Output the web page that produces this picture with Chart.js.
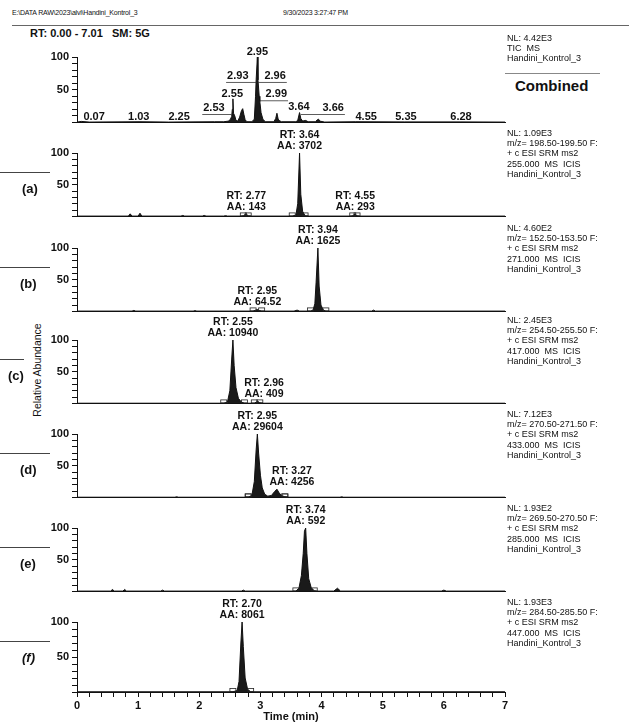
<!DOCTYPE html>
<html>
<head>
<meta charset="utf-8">
<script src="https://cdn.jsdelivr.net/npm/chart.js@4.4.1/dist/chart.umd.min.js"></script>
<style>
  body { margin: 0; background: #fff; }
  #page {
    position: relative;
    width: 629px;
    height: 724px;
    overflow: hidden;
    font-family: "Liberation Sans", Arial, sans-serif;
    color: #111;
  }
  canvas { position: absolute; left: 0; }
  .info { position: absolute; left: 507px; font-size: 9px; line-height: 10.2px; white-space: pre; }
  .tag { position: absolute; font-weight: bold; font-size: 13px; }
  .rule { position: absolute; height: 0; border-top: 1px solid #444; }
  .head { position: absolute; top: 9px; font-size: 7px; letter-spacing: -0.2px; }
</style>
</head>
<body>
<div id="page">
  <div class="head" style="left:12px">E:\DATA RAW\2023\alvi\Handini_Kontrol_3</div>
  <div class="head" style="left:283px">9/30/2023 3:27:47 PM</div>
  <div class="rule" style="left:12px;top:25px;width:617px;border-color:#666"></div>
  <div style="position:absolute;left:30px;top:27px;font-size:11px;font-weight:bold">RT: 0.00 - 7.01&nbsp;&nbsp;&nbsp;SM: 5G</div>
  <div class="rule" style="left:505px;top:73px;width:95px;border-color:#888"></div>
  <div style="position:absolute;left:515px;top:77px;font-size:15px;font-weight:bold">Combined</div>
  <div style="position:absolute;left:37px;top:370px;font-size:10.5px;transform:translate(-50%,-50%) rotate(-90deg);white-space:nowrap">Relative Abundance</div>
</div>

<script>
// ---- data ----
const xTickLabels = [0, 1, 2, 3, 4, 5, 6, 7];
const yTickLabels = [50, 100];

// TIC trace [time, relative abundance]
const ticTrace = [
  [0, 0.5], [0.07, 1.5], [0.2, 0.5], [1.03, 1], [1.5, 0.5], [2.25, 1], [2.4, 1],
  [2.48, 2], [2.51, 5], [2.53, 9], [2.54, 20], [2.55, 36], [2.56, 14], [2.58, 10],
  [2.6, 3], [2.63, 2], [2.66, 8], [2.69, 18], [2.71, 21], [2.73, 12], [2.75, 4],
  [2.78, 1], [2.86, 1], [2.9, 5], [2.92, 40], [2.93, 65], [2.95, 100], [2.96, 65],
  [2.98, 40], [2.99, 32], [3.01, 15], [3.04, 5], [3.08, 1], [3.22, 1], [3.25, 6],
  [3.27, 14], [3.29, 5], [3.31, 3], [3.34, 1], [3.58, 1], [3.61, 3], [3.64, 15],
  [3.66, 6], [3.69, 2], [3.74, 3], [3.78, 1], [3.9, 1], [3.93, 4], [3.95, 5],
  [3.97, 2], [4.05, 0.5], [4.55, 1], [5.35, 0.8], [6.28, 0.8], [7, 0.5]
];
const ticRt = [2.95, 2.93, 2.96, 2.55, 2.99, 2.53, 3.64, 3.66, 0.07, 1.03, 2.25, 4.55, 5.35, 6.28];

const traceA = [
  [0, 0.5], [0.84, 0.5], [0.87, 4], [0.9, 0.5], [1.0, 0.5], [1.03, 5], [1.06, 0.5],
  [1.7, 0.5], [1.73, 1.5], [1.76, 0.5], [2.05, 0.5], [2.08, 1.5], [2.11, 0.5],
  [2.4, 0.5], [2.43, 1.2], [2.46, 0.5], [2.68, 0.5], [2.72, 1], [2.75, 3], [2.77, 3.5],
  [2.8, 1], [2.85, 0.5], [3.52, 0.5], [3.58, 2], [3.61, 20], [3.64, 100], [3.66, 35],
  [3.69, 8], [3.73, 1], [3.8, 0.5], [4.48, 0.5], [4.51, 1], [4.53, 3], [4.55, 3.5],
  [4.58, 1], [4.62, 0.5], [7, 0.5]
];
const rtA = [2.77, 3.64, 4.55];
const areaA = ["143", "3702", "293"];

const traceB = [
  [0, 0.5], [0.9, 0.5], [0.93, 1.5], [0.96, 0.5], [1.9, 0.5], [1.93, 1.2], [1.96, 0.5],
  [2.88, 0.5], [2.92, 2], [2.95, 3], [2.98, 1.5], [3.02, 0.5], [3.55, 0.5], [3.6, 2],
  [3.64, 0.5], [3.82, 0.5], [3.86, 2], [3.89, 12], [3.91, 45], [3.94, 100], [3.96, 40],
  [3.99, 10], [4.03, 2], [4.07, 0.5], [4.82, 0.5], [4.85, 2], [4.88, 0.5], [7, 0.5]
];
const rtB = [2.95, 3.94];
const areaB = ["64.52", "1625"];

const traceC = [
  [0, 0.3], [2.4, 0.3], [2.46, 2], [2.5, 20], [2.53, 70], [2.55, 100], [2.57, 60],
  [2.6, 25], [2.64, 8], [2.69, 2], [2.74, 0.3], [2.9, 0.3], [2.93, 2], [2.96, 3],
  [2.99, 1], [3.05, 0.3], [7, 0.3]
];
const rtC = [2.55, 2.96];
const areaC = ["10940", "409"];

const traceD = [
  [0, 0.3], [1.6, 0.3], [1.63, 1], [1.66, 0.3], [2.8, 0.3], [2.86, 3], [2.9, 25],
  [2.93, 75], [2.95, 100], [2.97, 70], [3.0, 35], [3.03, 15], [3.07, 5], [3.12, 2],
  [3.18, 3], [3.23, 9], [3.27, 13], [3.3, 8], [3.34, 3], [3.4, 1], [3.46, 0.3],
  [4.3, 0.3], [4.33, 1], [4.36, 0.3], [7, 0.3]
];
const rtD = [2.95, 3.27];
const areaD = ["29604", "4256"];

const traceE = [
  [0, 0.5], [0.55, 0.5], [0.58, 3], [0.61, 0.5], [0.75, 0.5], [0.78, 3], [0.81, 0.5],
  [1.37, 0.5], [1.4, 2], [1.43, 0.5], [2.69, 0.5], [2.72, 2], [2.75, 0.5], [3.58, 0.5],
  [3.63, 5], [3.67, 25], [3.7, 60], [3.72, 95], [3.74, 100], [3.76, 60], [3.79, 20],
  [3.83, 6], [3.88, 1], [3.92, 0.5], [4.2, 0.5], [4.26, 5], [4.31, 0.5], [5.96, 0.5],
  [6.0, 2], [6.04, 0.5], [7, 0.5]
];
const rtE = [3.74];
const areaE = ["592"];

const traceF = [
  [0, 0.3], [2.55, 0.3], [2.62, 2], [2.65, 15], [2.68, 70], [2.7, 100], [2.72, 65],
  [2.75, 20], [2.79, 4], [2.84, 0.3], [7, 0.3]
];
const rtF = [2.7];
const areaF = ["8061"];

const infoTic = ["NL: 4.42E3", "TIC  MS", "Handini_Kontrol_3"];
const infoA = ["NL: 1.09E3", "m/z= 198.50-199.50 F:", "+ c ESI SRM ms2", "255.000  MS  ICIS", "Handini_Kontrol_3"];
const infoB = ["NL: 4.60E2", "m/z= 152.50-153.50 F:", "+ c ESI SRM ms2", "271.000  MS  ICIS", "Handini_Kontrol_3"];
const infoC = ["NL: 2.45E3", "m/z= 254.50-255.50 F:", "+ c ESI SRM ms2", "417.000  MS  ICIS", "Handini_Kontrol_3"];
const infoD = ["NL: 7.12E3", "m/z= 270.50-271.50 F:", "+ c ESI SRM ms2", "433.000  MS  ICIS", "Handini_Kontrol_3"];
const infoE = ["NL: 1.93E2", "m/z= 269.50-270.50 F:", "+ c ESI SRM ms2", "285.000  MS  ICIS", "Handini_Kontrol_3"];
const infoF = ["NL: 1.93E3", "m/z= 284.50-285.50 F:", "+ c ESI SRM ms2", "447.000  MS  ICIS", "Handini_Kontrol_3"];

// ---- layout (pixels) ----
const FONT = '"Liberation Sans", Arial, sans-serif';
const PLOT_LEFT = 77;
const PLOT_RIGHT = 505;

// where each TIC label sits: [time, % height] of the text centre
const ticTagSpot = [
  [2.95, 108], [2.63, 71], [3.24, 71], [2.54, 43], [3.26, 43], [2.24, 22], [3.63, 24],
  [4.19, 22], [0.28, 8], [1.01, 8], [1.67, 8], [4.73, 8], [5.38, 8], [6.28, 8]
];

const panels = [
  { trace: ticTrace, info: infoTic, base: 129, plotH: 72, padTop: 16, infoTop: 33 },
  { trace: traceA, rt: rtA, area: areaA, info: infoA, base: 223, plotH: 70, padTop: 24, label: "(a)", labelX: 22 },
  { trace: traceB, rt: rtB, area: areaB, info: infoB, base: 318, plotH: 70, padTop: 24, label: "(b)", labelX: 20 },
  { trace: traceC, rt: rtC, area: areaC, info: infoC, base: 410, plotH: 70, padTop: 24, label: "(c)", labelX: 8, shift: [0, 6] },
  { trace: traceD, rt: rtD, area: areaD, info: infoD, base: 504, plotH: 70, padTop: 24, label: "(d)", labelX: 20, shift: [0, 15] },
  { trace: traceE, rt: rtE, area: areaE, info: infoE, base: 598, plotH: 70, padTop: 24, label: "(e)", labelX: 20 },
  { trace: traceF, rt: rtF, area: areaF, info: infoF, base: 692, plotH: 70, padTop: 24, label: "(f)", labelX: 22, italic: true, last: true }
];

function apexOf(trace, rt) {
  let best = 0;
  trace.forEach(([t, v]) => { if (Math.abs(t - rt) <= 0.03 && v > best) best = v; });
  return best;
}

function boundsOf(trace, rt) {
  let idx = 0;
  trace.forEach(([t], i) => { if (Math.abs(t - rt) < Math.abs(trace[idx][0] - rt)) idx = i; });
  let l = idx, r = idx;
  while (l > 0 && trace[l][1] > 1) l--;
  while (r < trace.length - 1 && trace[r][1] > 1) r++;
  return [trace[l][0], trace[r][0]];
}

// peak annotations for the SRM panels
function peakTagPlugin(p) {
  return {
    id: "peakTags",
    afterDatasetsDraw(chart) {
      if (!p.rt) return;
      const { ctx, scales: { x, y } } = chart;
      ctx.save();
      ctx.fillStyle = "#111";
      ctx.strokeStyle = "#222";
      ctx.lineWidth = 0.8;
      ctx.font = "bold 10.5px " + FONT;
      ctx.textAlign = "center";
      ctx.textBaseline = "middle";
      p.rt.forEach((rt, i) => {
        const px = x.getPixelForValue(rt);
        const py = y.getPixelForValue(apexOf(p.trace, rt));
        const tx = px + ((p.shift && p.shift[i]) || 0);
        ctx.fillText("RT: " + rt.toFixed(2), tx, py - 18);
        ctx.fillText("AA: " + p.area[i], tx, py - 7);
        // integration marks at the peak edges
        const by = y.getPixelForValue(0);
        boundsOf(p.trace, rt).forEach((t) => {
          const bx = x.getPixelForValue(t);
          ctx.strokeRect(bx - 3, by - 3.5, 6, 3);
        });
      });
      ctx.restore();
    }
  };
}

// retention time labels of the TIC with their leader lines
const ticTagPlugin = {
  id: "ticTags",
  afterDatasetsDraw(chart) {
    const { ctx, scales: { x, y } } = chart;
    ctx.save();
    ctx.fillStyle = "#111";
    ctx.strokeStyle = "#333";
    ctx.lineWidth = 0.8;
    ctx.font = "bold 11px " + FONT;
    ctx.textAlign = "center";
    ctx.textBaseline = "middle";
    ticRt.forEach((rt, i) => {
      const [lt, lv] = ticTagSpot[i];
      const tx = x.getPixelForValue(lt);
      const ty = y.getPixelForValue(lv);
      const text = rt.toFixed(2);
      ctx.fillText(text, tx, ty);
      const rx = x.getPixelForValue(rt);
      if (Math.abs(tx - rx) > 8 && lv > 10) {
        const half = ctx.measureText(text).width / 2 + 1;
        const far = rx < tx ? tx + half : tx - half;
        ctx.beginPath();
        ctx.moveTo(rx, ty + 6.5);
        ctx.lineTo(far, ty + 6.5);
        ctx.stroke();
      }
    });
    ctx.restore();
  }
};

function addText(page, p) {
  const info = document.createElement("div");
  info.className = "info";
  info.style.top = (p.infoTop !== undefined ? p.infoTop : p.base - p.plotH - 25) + "px";
  info.textContent = p.info.join("\n");
  page.appendChild(info);
  if (!p.label) return;
  const mid = p.base - p.plotH / 2;
  const tag = document.createElement("div");
  tag.className = "tag";
  tag.style.left = p.labelX + "px";
  tag.style.top = (mid - 7) + "px";
  if (p.italic) tag.style.fontStyle = "italic";
  tag.textContent = p.label;
  page.appendChild(tag);
  const rule = document.createElement("div");
  rule.className = "rule";
  rule.style.left = "0px";
  rule.style.top = (mid - 16) + "px";
  rule.style.width = (p.labelX === 8 ? 24 : 50) + "px";
  page.appendChild(rule);
}

function makePanel(page, p) {
  const top = p.base - p.plotH - p.padTop;
  const bottom = p.last ? 724 : p.base + 3;
  const canvas = document.createElement("canvas");
  canvas.width = 629;
  canvas.height = bottom - top;
  canvas.style.top = top + "px";
  page.appendChild(canvas);

  const axisHeight = p.last ? 32 : 0;
  const xScale = {
    type: "linear",
    min: 0,
    max: 7,
    border: { display: true, color: "#111", width: 1 },
    afterFit: (s) => { s.height = axisHeight; }
  };
  if (p.last) {
    Object.assign(xScale, {
      ticks: {
        stepSize: 0.2,
        autoSkip: false,
        maxRotation: 0,
        padding: 2,
        color: "#111",
        font: { family: FONT, size: 11, weight: "bold" },
        callback: (v) => {
          const r = Math.round(v);
          return Math.abs(v - r) < 1e-6 && xTickLabels.includes(r) ? String(r) : "";
        }
      },
      grid: { drawOnChartArea: false, tickLength: 5, color: "#111" },
      title: { display: true, text: "Time (min)", color: "#111", padding: 0, font: { family: FONT, size: 11, weight: "bold" } }
    });
  } else {
    Object.assign(xScale, {
      ticks: { display: false },
      grid: { drawOnChartArea: false, drawTicks: false }
    });
  }

  new Chart(canvas, {
    type: "line",
    data: {
      datasets: [{
        data: p.trace.map(([t, v]) => ({ x: t, y: v })),
        borderColor: "#111",
        backgroundColor: "#1a1a1a",
        borderWidth: 1,
        fill: "origin",
        pointRadius: 0,
        tension: 0
      }]
    },
    options: {
      responsive: false,
      animation: false,
      devicePixelRatio: 1,
      layout: { padding: { top: p.padTop, right: 629 - PLOT_RIGHT, left: 0, bottom: p.last ? 0 : 3 } },
      plugins: { legend: { display: false }, tooltip: { enabled: false } },
      scales: {
        x: xScale,
        y: {
          min: 0,
          max: 100,
          border: { display: true, color: "#111", width: 1 },
          grid: { drawOnChartArea: false, tickLength: 5, color: "#111" },
          ticks: {
            stepSize: 10,
            autoSkip: false,
            padding: 3,
            color: "#111",
            font: { family: FONT, size: 11, weight: "bold" },
            callback: (v) => (yTickLabels.includes(v) ? String(v) : "")
          },
          afterFit: (s) => { s.width = PLOT_LEFT; }
        }
      }
    },
    plugins: [p.rt ? peakTagPlugin(p) : ticTagPlugin]
  });
}

const page = document.getElementById("page");
panels.forEach((p) => {
  makePanel(page, p);
  addText(page, p);
});
</script>
</body>
</html>
